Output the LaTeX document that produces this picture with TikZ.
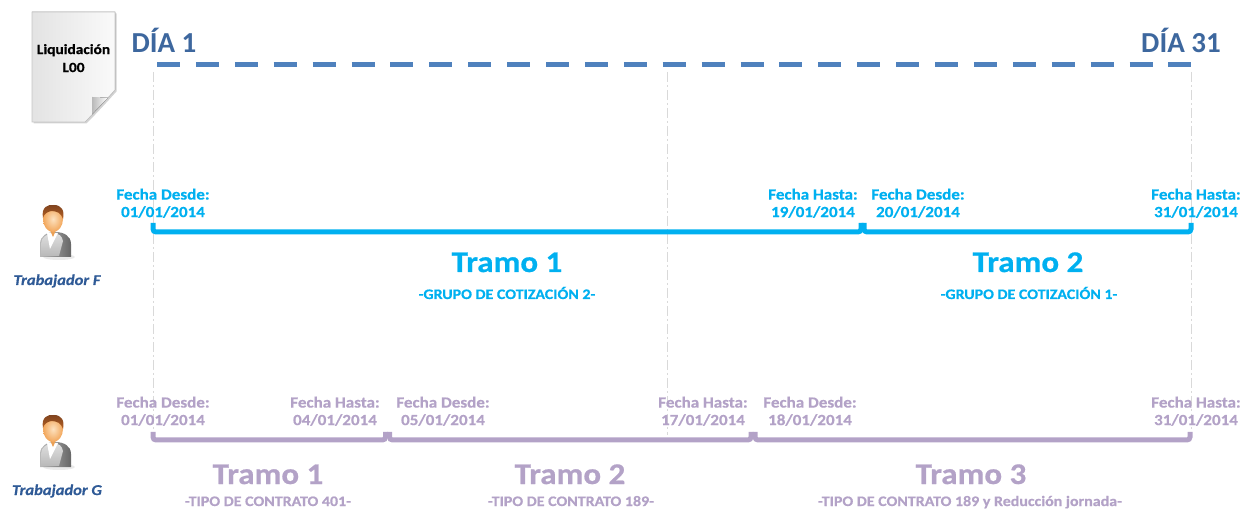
\documentclass[tikz,border=0pt]{standalone}
\usepackage{fontspec}
\setmainfont{Carlito}
\newfontfamily\widefont{Carlito}[FakeStretch=1.1, BoldFeatures={FakeBold=0.6}, BoldItalicFeatures={FakeBold=0.6}]
\usetikzlibrary{shadows}

\definecolor{tramoF}{HTML}{00B0F0}
\definecolor{tramoG}{HTML}{B3A2C7}
\definecolor{dayblue}{HTML}{4F81BD}
\definecolor{daytext}{HTML}{3D679E}
\definecolor{workerblue}{HTML}{2F5A96}
\definecolor{headlight}{HTML}{FDE2C0}
\definecolor{headorange}{HTML}{F2A65A}
\definecolor{hairbrown}{HTML}{A5582A}

\tikzset{
  guide/.style={draw=gray!30, line width=0.9pt, dash pattern=on 10pt off 3pt on 2pt off 3pt},
  dayline/.style={draw=dayblue, line width=5pt, dash pattern=on 23pt off 15.9pt},
  daylabel/.style={text=daytext, font=\fontsize{29}{34}\selectfont\bfseries, inner sep=0pt, anchor=base},
  brace/.style={line width=5pt, rounded corners=3pt},
  fecha/.style={font=\widefont\fontsize{15.5}{17.5}\selectfont\bfseries, align=center, inner sep=0pt, anchor=north},
  tramo/.style={font=\widefont\fontsize{30}{36}\selectfont\bfseries, inner sep=0pt, anchor=base},
  grupo/.style={font=\widefont\fontsize{14.5}{17}\selectfont\bfseries, inner sep=0pt, anchor=base},
  workerlabel/.style={text=workerblue, font=\widefont\fontsize{15}{17}\selectfont\bfseries\itshape, inner sep=0pt, anchor=base},
  pics/worker/.style={code={
    \fill[gray!20, opacity=0.8] (6,38) ellipse (16pt and 3pt);
    \shade[left color=gray!55, right color=gray!80!black] (-13,38) -- (-13,25) .. controls (-13,17) and (-6,13) .. (2,13) .. controls (11,13) and (18,17) .. (18,25) -- (18,38) -- cycle;
    \shade[top color=gray!25, bottom color=gray!55] (-12,37) -- (-12,25) .. controls (-12,18) and (-6,14.5) .. (1,14.5) .. controls (6,14.5) and (9,17) .. (10,22) -- (6,37) -- cycle;
    \fill[white] (-6,14) -- (5,14) -- (-3,30) -- cycle;
    \fill[headorange!85!brown] (-4,9) -- (4,9) -- (0,18) -- cycle;
    \shade[inner color=headlight, outer color=headorange] (0,0) ellipse (10pt and 13pt);
    \shade[top color=hairbrown!75!black, bottom color=hairbrown!80!orange] (-10,-1) .. controls (-12,-12) and (-5,-15) .. (1,-14) .. controls (8,-14) and (12,-9) .. (10,0) .. controls (8,-6) and (4,-8) .. (-2,-8) .. controls (-6,-7) and (-9,-5) .. (-10,-1) -- cycle;
  }},
}

\begin{document}
\begin{tikzpicture}[x=1pt,y=-1pt]
\useasboundingbox (0,0) rectangle (1240,510);

% liquidacion sheet
\fill[left color=gray!22, right color=gray!4, drop shadow={shadow xshift=1.5pt, shadow yshift=-1.5pt, opacity=0.35}]
  (32,12) -- (115,12) -- (115,90) .. controls (105,101) and (95,112) .. (85,122) -- (32,122) -- cycle;
\draw[gray!45, line width=0.6pt] (32,12) -- (115,12) -- (115,90) .. controls (105,101) and (95,112) .. (85,122) -- (32,122) -- cycle;
\fill[left color=gray!55, right color=white] (92,97) -- (108,97.5) .. controls (102,104) and (97,109) .. (92,114.5) -- cycle;
\node[font=\widefont\fontsize{14}{18}\selectfont\bfseries, align=center, inner sep=0pt, anchor=north] (liq) at (73.5,44) {Liquidación\\L00};

% month line
\coordinate (dl0) at (157,65);
\coordinate (dl1) at (1192,65);
\draw[dayline] (dl0) -- (dl1);
\node[daylabel] (dia1) at (164,53) {DÍA 1};
\node[daylabel] (dia31) at (1181,53) {DÍA 31};

% guides
\coordinate (v1a) at (153,72);  \coordinate (v1b) at (153,432);
\coordinate (v2a) at (667,72);  \coordinate (v2b) at (667,435);
\coordinate (v3a) at (1191,72); \coordinate (v3b) at (1191,432);
\draw[guide] (v1a) -- (v1b);
\draw[guide] (v2a) -- (v2b);
\draw[guide] (v3a) -- (v3b);

% Trabajador F
\pic (wF) at (53,219) {worker};
\node[workerlabel] (trabF) at (57,285) {Trabajador F};

\coordinate (f0) at (153,223);
\coordinate (f1) at (861,223);
\coordinate (f2) at (864,223);
\coordinate (f3) at (1191,223);
\draw[brace, tramoF] (f0) -- ++(0,9) -| (f1);
\draw[brace, tramoF] (f2) -- ++(0,9) -| (f3);

\node[fecha, text=tramoF] (desdeF1) at (163,188.5) {Fecha Desde:\\01/01/2014};
\node[fecha, text=tramoF] (hastaF1) at (813,188.5) {Fecha Hasta:\\19/01/2014};
\node[fecha, text=tramoF] (desdeF2) at (918,188.5) {Fecha Desde:\\20/01/2014};
\node[fecha, text=tramoF] (hastaF2) at (1196,188.5) {Fecha Hasta:\\31/01/2014};

\node[tramo, text=tramoF] (tramoF1) at (507,272) {Tramo 1};
\node[grupo, text=tramoF] (grupoF1) at (507,299) {-GRUPO DE COTIZACIÓN 2-};
\node[tramo, text=tramoF] (tramoF2) at (1028,272) {Tramo 2};
\node[grupo, text=tramoF] (grupoF2) at (1029,299) {-GRUPO DE COTIZACIÓN 1-};

% Trabajador G
\pic (wG) at (53,429) {worker};
\node[workerlabel] (trabG) at (57,495) {Trabajador G};

\coordinate (g0) at (153,432);
\coordinate (g1) at (385.5,432);
\coordinate (g2) at (389.5,432);
\coordinate (g3) at (751,432);
\coordinate (g4) at (755,432);
\coordinate (g5) at (1190,432);
\draw[brace, tramoG] (g0) -- ++(0,8) -| (g1);
\draw[brace, tramoG] (g2) -- ++(0,8) -| (g3);
\draw[brace, tramoG] (g4) -- ++(0,8) -| (g5);

\node[fecha, text=tramoG] (desdeG1) at (163,396.5) {Fecha Desde:\\01/01/2014};
\node[fecha, text=tramoG] (hastaG1) at (335,396.5) {Fecha Hasta:\\04/01/2014};
\node[fecha, text=tramoG] (desdeG2) at (443,396.5) {Fecha Desde:\\05/01/2014};
\node[fecha, text=tramoG] (hastaG2) at (703,396.5) {Fecha Hasta:\\17/01/2014};
\node[fecha, text=tramoG] (desdeG3) at (810,396.5) {Fecha Desde:\\18/01/2014};
\node[fecha, text=tramoG] (hastaG3) at (1196,396.5) {Fecha Hasta:\\31/01/2014};

\node[tramo, text=tramoG] (tramoG1) at (268,484) {Tramo 1};
\node[grupo, text=tramoG] (tipoG1) at (268,506) {-TIPO DE CONTRATO 401-};
\node[tramo, text=tramoG] (tramoG2) at (570,484) {Tramo 2};
\node[grupo, text=tramoG] (tipoG2) at (571,506) {-TIPO DE CONTRATO 189-};
\node[tramo, text=tramoG] (tramoG3) at (971,484) {Tramo 3};
\node[grupo, text=tramoG] (tipoG3) at (970,506) {-TIPO DE CONTRATO 189 y Reducción jornada-};
\end{tikzpicture}
\end{document}
